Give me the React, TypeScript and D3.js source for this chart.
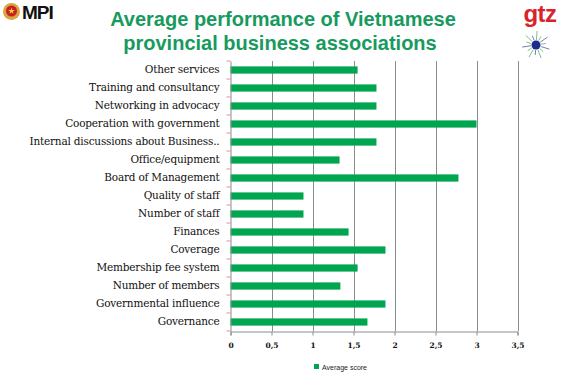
import React, { useEffect, useRef } from "react";
import * as d3 from "d3";

const categories = [
  "Other services",
  "Training and consultancy",
  "Networking in advocacy",
  "Cooperation with government",
  "Internal discussions about Business..",
  "Office/equipment",
  "Board of Management",
  "Quality of staff",
  "Number of staff",
  "Finances",
  "Coverage",
  "Membership fee system",
  "Number of members",
  "Governmental influence",
  "Governance",
];
const scores = [1.55, 1.78, 1.78, 3.0, 1.78, 1.33, 2.78, 0.89, 0.89, 1.44, 1.89, 1.55, 1.34, 1.89, 1.67];
const xTicks = [0, 0.5, 1, 1.5, 2, 2.5, 3, 3.5];
const seriesName = "Average score";

const App = () => {
  const svgRef = useRef<SVGSVGElement>(null);

  useEffect(() => {
    const width = 567, height = 392;
    const barColor = "#00a550", titleColor = "#179a5e", gridColor = "#8c8c8c";
    const left = 230.5, right = 517.5, top = 61, bottom = 331;
    const serif = "'DejaVu Serif', 'Liberation Serif', serif";
    const sans = "'Liberation Sans', Arial, sans-serif";

    const svg = d3.select(svgRef.current).attr("width", width).attr("height", height).html("");
    svg.append("rect").attr("width", width).attr("height", height).attr("fill", "#fff");

    // title
    const title = svg.append("g").attr("fill", titleColor)
      .style("font-family", sans).style("font-weight", "bold")
      .style("font-size", "20px").attr("text-anchor", "middle");
    title.append("text").attr("x", 283).attr("y", 26).text("Average performance of Vietnamese");
    title.append("text").attr("x", 280).attr("y", 50).text("provincial business associations");

    // MPI logo
    const mpi = svg.append("g");
    mpi.append("circle").attr("cx", 11.5).attr("cy", 11.5).attr("r", 8.5).attr("fill", "#d9a441");
    mpi.append("circle").attr("cx", 11.5).attr("cy", 11).attr("r", 5.5).attr("fill", "#c8201e");
    mpi.append("path").attr("d", d3.symbol().type(d3.symbolStar).size(14)()!)
      .attr("transform", "translate(11.5,11)").attr("fill", "#f4d13d");
    mpi.append("text").attr("x", 22).attr("y", 19).attr("fill", "#111")
      .style("font-family", sans).style("font-weight", "bold")
      .style("font-size", "19px").style("letter-spacing", "-1px").text("MPI");

    // gtz logo
    svg.append("text").attr("x", 540).attr("y", 22).attr("text-anchor", "middle").attr("fill", "#d8232a")
      .style("font-family", sans).style("font-weight", "bold").style("font-size", "24px")
      .style("letter-spacing", "-0.5px").text("gtz");
    const sun = svg.append("g").attr("transform", "translate(536,45)");
    d3.range(14).forEach((i) => {
      const a = (i / 14) * Math.PI * 2 + 0.3;
      const r2 = i % 2 ? 10 : 14;
      sun.append("line")
        .attr("x1", Math.cos(a) * 5).attr("y1", Math.sin(a) * 5)
        .attr("x2", Math.cos(a) * r2).attr("y2", Math.sin(a) * r2)
        .attr("stroke", i % 3 === 0 ? "#5a5aa8" : "#5fae6a").attr("stroke-width", 0.8);
    });
    sun.append("circle").attr("r", 4.5).attr("fill", "#1d2a8c");

    const x = d3.scaleLinear().domain([0, 3.5]).range([left, right]);
    const y = d3.scaleBand().domain(categories).range([top, bottom]).paddingInner(0.6).paddingOuter(0.3);
    const band = d3.scaleBand().domain(categories).range([top, bottom]);

    // gridlines
    svg.append("g").selectAll("line").data(xTicks.slice(1)).enter().append("line")
      .attr("x1", (d) => Math.round(x(d)) + 0.5).attr("x2", (d) => Math.round(x(d)) + 0.5)
      .attr("y1", top).attr("y2", bottom).attr("stroke", gridColor).attr("stroke-width", 1);

    // bars
    svg.append("g").selectAll("rect").data(categories).enter().append("rect")
      .attr("x", left).attr("y", (d) => y(d)!)
      .attr("width", (d, i) => x(scores[i]) - left).attr("height", y.bandwidth())
      .attr("fill", barColor);

    // x axis
    const xAxis = svg.append("g").attr("transform", `translate(0,${bottom + 0.5})`)
      .call(d3.axisBottom(x).tickValues(xTicks).tickSize(4).tickFormat((d) => d3.format("")(d as number).replace(".", ",")));
    xAxis.select(".domain").attr("stroke", gridColor);
    xAxis.selectAll(".tick line").attr("stroke", gridColor);
    xAxis.selectAll(".tick text").attr("fill", "#111").attr("dy", "1.2em")
      .style("font-family", serif).style("font-weight", "bold").style("font-size", "7.5px");

    // y axis
    const yAxis = svg.append("g").attr("transform", `translate(${left},0)`)
      .call(d3.axisLeft(band).tickSize(0).tickPadding(11));
    yAxis.select(".domain").attr("stroke", gridColor);
    yAxis.selectAll(".tick text").attr("fill", "#111")
      .style("font-family", serif).style("font-size", "10.5px").style("letter-spacing", "-0.2px");
    svg.append("g").selectAll("line").data(d3.range(categories.length + 1)).enter().append("line")
      .attr("x1", left - 4).attr("x2", left)
      .attr("y1", (i) => top + i * band.step()).attr("y2", (i) => top + i * band.step())
      .attr("stroke", "#c87a7a").attr("stroke-width", 0.8);

    // legend
    svg.append("rect").attr("x", 314).attr("y", 364).attr("width", 5).attr("height", 5).attr("fill", barColor);
    svg.append("text").attr("x", 322).attr("y", 369.5).attr("fill", "#222")
      .style("font-family", sans).style("font-size", "7px").text(seriesName);
  }, []);

  return <svg ref={svgRef} style={{ position: "absolute", left: 0, top: 0 }}></svg>;
};

export default App;
